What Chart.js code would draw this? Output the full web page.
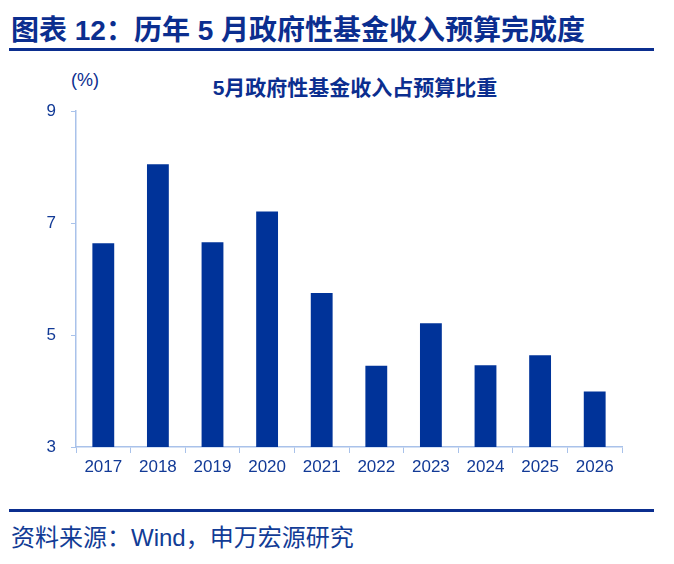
<!DOCTYPE html>
<html>
<head>
<meta charset="utf-8">
<script src="https://cdn.jsdelivr.net/npm/chart.js@4.4.1/dist/chart.umd.min.js"></script>
<style>
    body { margin: 0; width: 674px; height: 564px; background: #fff; position: relative; overflow: hidden;
           font-family: "Liberation Sans", "Noto Sans CJK SC", sans-serif; }
    .titulo { position: absolute; left: 11px; top: 13px; font-size: 28px; font-weight: bold; color: #0b2e8f; white-space: nowrap; line-height: 36px; }
    .linea { position: absolute; left: 9px; width: 645px; height: 3px; background: #0b2e8f; }
    .subtitulo { position: absolute; left: 0; width: 710px; text-align: center; top: 75px; font-size: 21px; font-weight: bold; color: #0b2e8f; line-height: 26px; }
    .unidad { position: absolute; left: 71px; top: 69px; font-size: 18px; color: #0b2e8f; line-height: 22px; }
    .fuente { position: absolute; left: 11px; top: 523px; font-size: 24px; color: #123c96; white-space: nowrap; line-height: 30px; }
    #wrap { position: absolute; left: 0; top: 86px; width: 674px; height: 409px; }
</style>
</head>
<body>
<div class="titulo">图表 12：历年 5 月政府性基金收入预算完成度</div>
<div class="linea" style="top:48px"></div>
<div class="unidad">(%)</div>
<div class="subtitulo">5月政府性基金收入占预算比重</div>
<div id="wrap"><canvas id="grafico"></canvas></div>
<div class="linea" style="top:509px"></div>
<div class="fuente">资料来源：Wind，申万宏源研究</div>

<script>
// Datos del gráfico
const anios = ["2017", "2018", "2019", "2020", "2021", "2022", "2023", "2024", "2025", "2026"];
const valores = [6.64, 8.05, 6.66, 7.21, 5.75, 4.45, 5.21, 4.46, 4.64, 3.99];
const ejeY = { min: 3, max: 9, paso: 2 };

const colorEje = "#a9c2ea";
const colorTexto = "#123a96";

new Chart(document.getElementById("grafico"), {
    type: "bar",
    data: {
        labels: anios,
        datasets: [{
            data: valores,
            backgroundColor: "#003399",
            barPercentage: 0.4,
            categoryPercentage: 1
        }]
    },
    options: {
        responsive: true,
        maintainAspectRatio: false,
        animation: false,
        layout: { padding: { top: 9, right: 52, left: 0, bottom: 0 } },
        plugins: { legend: { display: false }, tooltip: { enabled: false } },
        scales: {
            x: {
                afterFit: s => { s.height = 48; },
                border: { color: colorEje, width: 1.5 },
                grid: { drawOnChartArea: false, drawTicks: true, tickLength: 6, color: colorEje, offset: true },
                ticks: { color: colorTexto, padding: 4, font: { family: "Liberation Sans", size: 17 } }
            },
            y: {
                min: ejeY.min,
                max: ejeY.max,
                afterFit: s => { s.width = 76; },
                border: { color: colorEje, width: 1.5 },
                grid: { drawOnChartArea: false, drawTicks: true, tickLength: 5, color: colorEje },
                ticks: { stepSize: ejeY.paso, color: colorTexto, padding: 15, font: { family: "Liberation Sans", size: 17 } }
            }
        }
    }
});
</script>
</body>
</html>
